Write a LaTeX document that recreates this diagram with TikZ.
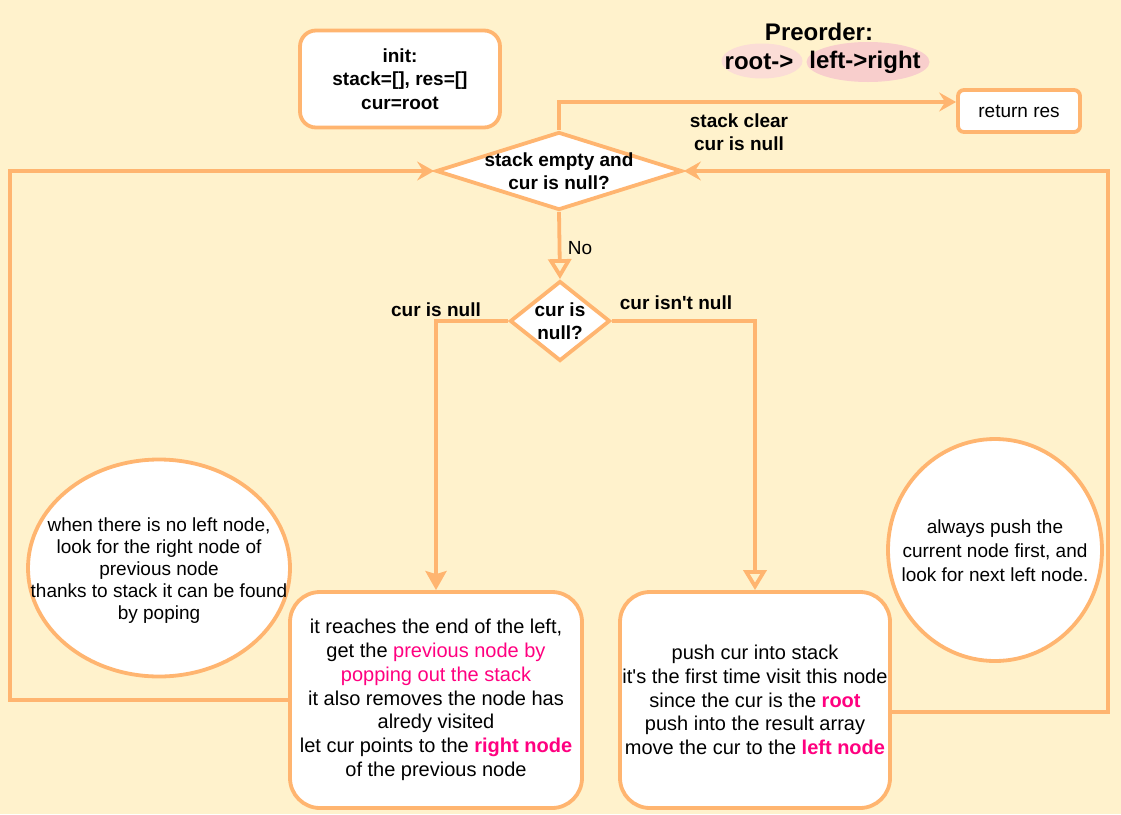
\documentclass[tikz,border=0pt]{standalone}
\usepackage{fontspec}
\setmainfont{Liberation Sans}[Ligatures=TeXOff]
\usetikzlibrary{shapes.geometric,arrows.meta}
\definecolor{bg}{HTML}{FFF2CC}
\definecolor{stk}{HTML}{FFB570}
\definecolor{pk}{HTML}{FF0080}
\definecolor{pinkA}{HTML}{FBDDD6}
\definecolor{pinkB}{HTML}{F8CECC}
\begin{document}
\begin{tikzpicture}[x=1pt,y=-1pt,
  every node/.style={font=\fontsize{19}{23.5}\selectfont, align=center, inner sep=0pt},
  bold/.style={font=\fontsize{19}{23.5}\selectfont\bfseries},
  bigbold/.style={font=\fontsize{24}{28}\selectfont\bfseries},
  boxtext/.style={font=\fontsize{20}{23.8}\selectfont},
  box/.style={draw=stk, line width=3.8pt, fill=white, rectangle},
  conn/.style={draw=stk, line width=3.8pt},
  openA/.style={-{Triangle[open,width=23pt,length=20pt]}},
  filledA/.style={-{Stealth[width=21pt,length=19pt,inset=3pt]}},
  stealthA/.style={-{Stealth[width=19pt,length=17pt,inset=6pt]}},
  pinkfill/.style={ellipse, draw=none}
]
\path[fill=bg] (0,0) rectangle (1121,814);
\useasboundingbox (0,0) rectangle (1121,814);

% title
\node[bigbold] (title) at (819,32) {Preorder:};
\node[pinkfill, fill=pinkA, minimum width=81pt, minimum height=35pt] (e1) at (762,61) {};
\node[pinkfill, fill=pinkB, minimum width=123pt, minimum height=40pt] (e2) at (868,62) {};
\node[bigbold] (t1) at (759,62) {root->};
\node[bigbold] (t2) at (865,62) {left->right};

% init
\node[box, bold, rounded corners=16pt, minimum width=200pt, minimum height=97pt] (init) at (400,79) {init:\\stack=[], res=[]\\cur=root};

% return res
\node[box, rounded corners=6pt, minimum width=122pt, minimum height=42pt] (rr) at (1019,111) {return res};

% diamonds
\node[diamond, draw=stk, line width=3.8pt, fill=white, minimum width=246pt, minimum height=78pt] (d1) at (559,171) {};
\node[bold] (d1t) at (559,171) {stack empty and\\cur is null?};
\node[diamond, draw=stk, line width=3.8pt, fill=white, minimum width=100pt, minimum height=80pt] (d2) at (560,321) {};
\node[bold] (d2t) at (560,321) {cur is\\null?};

% bottom boxes
\node[box, boxtext, rounded corners=30pt, minimum width=292pt, minimum height=216pt] (box1) at (436,700)
 {it reaches the end of the left,\\
  get the \textcolor{pk}{previous node by}\\
  \textcolor{pk}{popping out the stack}\\
  it also removes the node has\\
  alredy visited\\
  let cur points to the \textcolor{pk}{\bfseries right node}\\
  of the previous node};
\node[box, boxtext, rounded corners=30pt, minimum width=270pt, minimum height=216pt] (box2) at (755,700)
 {push cur into stack\\
  it's the first time visit this node\\
  since the cur is the \textcolor{pk}{\bfseries root}\\
  push into the result array\\
  move the cur to the \textcolor{pk}{\bfseries left node}};

% circles
\node[ellipse, draw=stk, line width=3.8pt, fill=white, minimum width=262pt, minimum height=217pt] (c1) at (159,568) {};
\node[font=\fontsize{19}{22}\selectfont] (c1t) at (159,571)
 {when there is no left node,\\look for the right node of\\previous node\\thanks to stack it can be found\\by poping};
\node[ellipse, draw=stk, line width=3.8pt, fill=white, minimum width=214pt, minimum height=222pt] (c2) at (995,550) {};
\node[font=\fontsize{19}{24}\selectfont] (c2t) at (995,551)
 {always push the\\current node first, and\\look for next left node.};

% labels
\node[bold] (lsc) at (739,132) {stack clear\\cur is null};
\node (lno) at (580,248) {No};
\node[bold] (lnull) at (436,310) {cur is null};
\node[bold] (lnn) at (676,303) {cur isn't null};

% connectors
\draw[conn, stealthA] (d1.north) |- ([yshift=9pt]rr.west);
\draw[conn, openA] (d1.south) -- (d2.north);
\draw[conn, filledA] (d2.west) -| (box1.north);
\draw[conn, openA] (d2.east) -| (box2.north);
\coordinate (lc) at (10,700);
\coordinate (rc) at (1108,712);
\draw[conn, stealthA] (box1.west) -- (lc) |- (d1.west);
\draw[conn, stealthA] ([yshift=-12pt]box2.east) -- (rc) |- (d1.east);
\end{tikzpicture}
\end{document}
